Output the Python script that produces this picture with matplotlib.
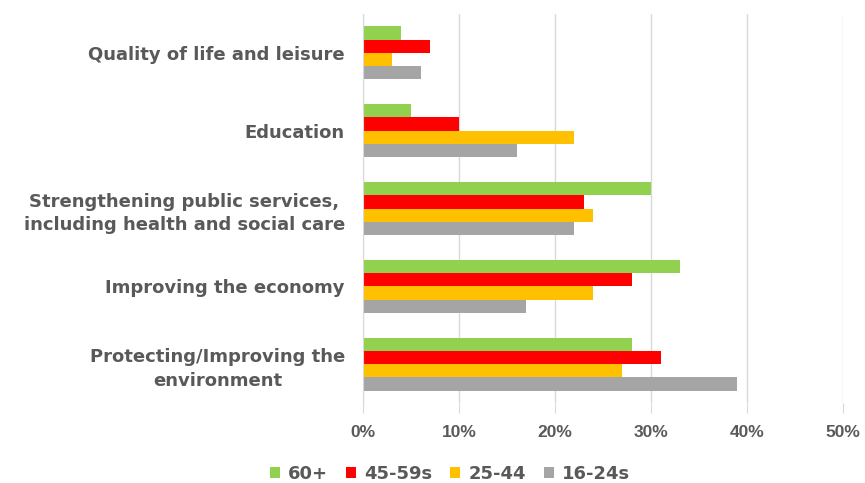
import matplotlib
matplotlib.use("Agg")
import matplotlib.pyplot as plt
import numpy as np

categories = ["Quality of life and leisure", "Education",
              "Strengthening public services,\nincluding health and social care",
              "Improving the economy", "Protecting/Improving the\nenvironment"]
series_names = ["60+", "45-59s", "25-44", "16-24s"]
v_60 = [4, 5, 30, 33, 28]
v_45 = [7, 10, 23, 28, 31]
v_25 = [3, 22, 24, 24, 27]
v_16 = [6, 16, 22, 17, 39]
colors = ["#92D050", "#FF0000", "#FFC000", "#A5A5A5"]
xticks = [0, 10, 20, 30, 40, 50]
xticklabels = ["0%", "10%", "20%", "30%", "40%", "50%"]

plt.rcParams['font.family'] = ['DejaVu Sans']
fig = plt.figure(figsize=(8.65, 4.83), dpi=100)
ax = fig.add_axes([0.4197, 0.1656, 0.5549, 0.8054])

y = np.arange(len(categories))
h = 0.17
all_vals = [v_60, v_45, v_25, v_16]
for i, (vals, c, n) in enumerate(zip(all_vals, colors, series_names)):
    ax.barh(y - 1.5 * h + i * h, vals, height=h, color=c, label=n, zorder=3)

ax.set_ylim(len(categories) - 0.5, -0.5)
ax.set_xlim(0, 50)
ax.set_xticks(xticks)
ax.set_xticklabels(xticklabels, fontsize=12.5, color="#595959", fontweight="bold",
                   family=["Liberation Sans", "DejaVu Sans"])
ax.set_yticks(y)
ax.set_yticklabels(categories, fontsize=13, color="#595959", fontweight="bold",
                   ha="right", multialignment="center", linespacing=1.4)
ax.tick_params(axis="y", length=0, pad=13)
ax.tick_params(axis="x", length=7, color="#D9D9D9", pad=9)
ax.grid(axis="x", color="#D9D9D9", linewidth=1, zorder=0)
for s in ["top", "right", "bottom"]:
    ax.spines[s].set_visible(False)
ax.spines["left"].set_color("#D9D9D9")
ax.spines["left"].set_zorder(4)

leg = fig.legend(loc="center", bbox_to_anchor=(0.52, 0.018), ncol=4, frameon=False,
                 handlelength=0.55, handleheight=0.55, handletextpad=0.45, columnspacing=1.0,
                 prop={"size": 13, "weight": "bold"})
for t in leg.get_texts():
    t.set_color("#595959")

fig.savefig("out.png", dpi=100)
